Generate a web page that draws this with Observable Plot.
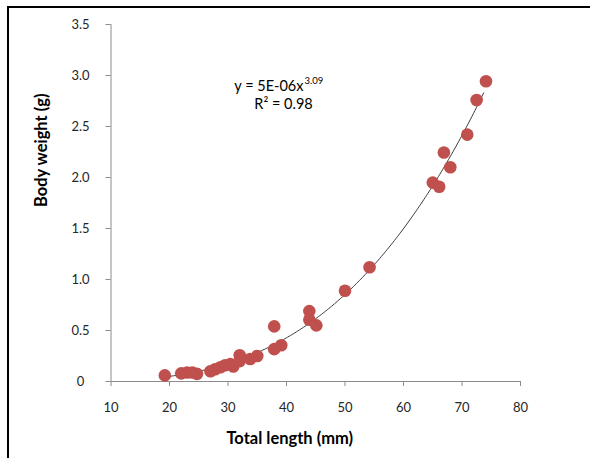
<!DOCTYPE html>
<html><head><meta charset="utf-8">
<script src="https://cdn.jsdelivr.net/npm/d3@7"></script>
<script src="https://cdn.jsdelivr.net/npm/@observablehq/plot@0.6"></script>
<style>
html,body{margin:0;padding:0;background:#fff;}
#wrap{position:relative;width:590px;height:458px;overflow:hidden;background:#fff;}
#frame{position:absolute;left:7px;top:6px;width:700px;height:600px;border-top:2px solid #000;border-left:2px solid #000;pointer-events:none;}
</style></head><body>
<div id="wrap"><div id="chart"></div><div id="frame"></div></div>
<script>
// Total length (mm) and body weight (g)
const lengths = [19.2, 22.0, 23.0, 23.9, 24.7, 27.0, 27.8, 28.7, 29.5, 30.4, 30.9, 32.0, 32.0, 33.8, 35.0, 37.9, 37.9, 39.1, 43.9, 43.9, 45.1, 50.0, 54.2, 65.0, 66.1, 66.9, 68.0, 70.9, 72.5, 74.1];
const weights = [0.06, 0.08, 0.088, 0.088, 0.075, 0.10, 0.12, 0.14, 0.16, 0.17, 0.147, 0.258, 0.20, 0.22, 0.25, 0.54, 0.317, 0.356, 0.69, 0.605, 0.55, 0.89, 1.12, 1.95, 1.91, 2.245, 2.10, 2.42, 2.76, 2.944];
const xTicks = [10, 20, 30, 40, 50, 60, 70, 80];
const yTicks = [0, 0.5, 1.0, 1.5, 2.0, 2.5, 3.0, 3.5];
// Power trendline y = a * x^b (as labelled on the chart)
const fitA = 4.8e-6, fitB = 3.09;
const fitRange = [19.2, 73.9];
const eqMain = "y = 5E-06x", eqExp = "3.09", eqR2 = "R² = 0.98";
const xLabel = "Total length (mm)", yLabel = "Body weight (g)";

const points = lengths.map((l, i) => ({l, w: weights[i]}));
const curve = d3.range(fitRange[0], fitRange[1] + 0.001, 0.25).map(l => ({l, w: fitA * Math.pow(l, fitB)}));

const axisGray = "#8c8c8c", labelColor = "#262626";
const chart = Plot.plot({
  width: 590, height: 458,
  marginLeft: 110.5, marginRight: 70, marginTop: 24, marginBottom: 77,
  style: {fontFamily: "Lato, sans-serif", fontSize: "13px", background: "white", overflow: "visible"},
  x: {domain: [10, 80]},
  y: {domain: [0, 3.5]},
  marks: [
    Plot.ruleY([0], {stroke: axisGray}),
    Plot.ruleX([10], {stroke: axisGray}),
    Plot.axisX({ticks: xTicks, tickSize: 5, tickPadding: 16, stroke: axisGray, fill: labelColor, label: null, tickFormat: d => String(d)}),
    Plot.axisY({ticks: yTicks, tickSize: 5, tickPadding: 25.5, textAnchor: "middle", stroke: axisGray, fill: labelColor, label: null,
      tickFormat: d => d === 0 ? "0" : d.toFixed(1)}),
    Plot.line(curve, {x: "l", y: "w", stroke: "#3a3a3a", strokeWidth: 1}),
    Plot.dot(points, {x: "l", y: "w", r: 6.3, fill: "#C0504D", stroke: null}),
    Plot.text([eqMain], {text: d => d, frameAnchor: "top-left", dx: 192.5, dy: 62, textAnchor: "end", lineAnchor: "middle", fontSize: 14.5, fill: "#000"}),
    Plot.text([eqExp], {text: d => d, frameAnchor: "top-left", dx: 193.5, dy: 56, textAnchor: "start", lineAnchor: "middle", fontSize: 9.5, fill: "#000"}),
    Plot.text([eqR2], {text: d => d, frameAnchor: "top-left", dx: 172.5, dy: 80, textAnchor: "middle", lineAnchor: "middle", fontSize: 14.5, fill: "#000"}),
    Plot.text([xLabel], {text: d => d, frameAnchor: "bottom", dx: -26, dy: 57, lineAnchor: "middle", fontSize: 16.5, fontWeight: "bold", fill: "#000"}),
    Plot.text([yLabel], {text: d => d, frameAnchor: "left", rotate: -90, dx: -69.5, dy: 4, lineAnchor: "middle", fontSize: 16.5, fontWeight: "bold", fill: "#000"})
  ]
});
document.getElementById("chart").appendChild(chart);
</script>
</body></html>
